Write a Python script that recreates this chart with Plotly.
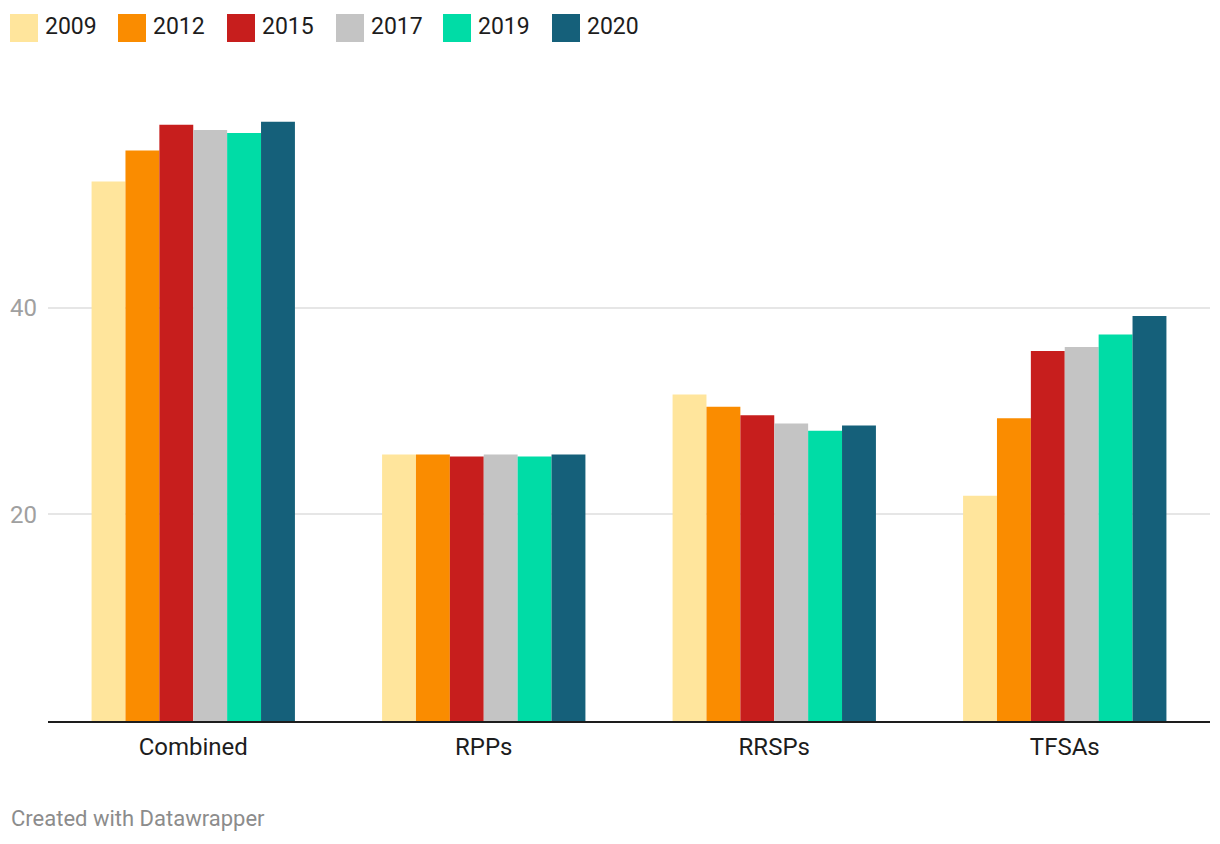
import plotly.graph_objects as go

categories = ["Combined", "RPPs", "RRSPs", "TFSAs"]
years = ["2009", "2012", "2015", "2017", "2019", "2020"]
v2009 = [52.2, 25.8, 31.6, 21.8]
v2012 = [55.2, 25.8, 30.4, 29.3]
v2015 = [57.7, 25.6, 29.6, 35.8]
v2017 = [57.2, 25.8, 28.8, 36.2]
v2019 = [56.9, 25.6, 28.1, 37.4]
v2020 = [58.0, 25.8, 28.6, 39.2]
series = [v2009, v2012, v2015, v2017, v2019, v2020]
colors = ["#ffe59c", "#fa8c00", "#c71e1d", "#c4c4c4", "#00dca6", "#15607a"]
y_ticks = [20, 40]

fig = go.Figure()
for yr, vals, col in zip(years, series, colors):
    fig.add_trace(go.Bar(x=categories, y=vals, name=yr, marker_color=col,
                         marker_line_width=0, showlegend=False))

# page offset (body margin) of 8px; target screen coords below
OFF = 8
W, H = 1212, 836
L, R, T, B = 40, 10, 93, 123
PW = W - L - R
PH = H - T - B


def px(x):
    return (x - OFF - L) / PW


def py(y):
    return (T + PH - (y - OFF)) / PH


# custom legend (large swatches like the reference)
leg_x = [10, 118, 227, 336, 443, 552]
for i, (yr, col) in enumerate(zip(years, colors)):
    x0 = leg_x[i]
    fig.add_shape(type="rect", xref="paper", yref="paper",
                  x0=px(x0), x1=px(x0 + 28), y0=py(14), y1=py(42),
                  fillcolor=col, line_width=0)
    fig.add_annotation(xref="paper", yref="paper",
                       x=px(x0 + 33), y=py(27),
                       text=yr, showarrow=False, xanchor="left", yanchor="middle",
                       font=dict(family="Roboto", size=23, color="#1d1d1d"))

fig.add_annotation(xref="paper", yref="paper", x=px(9), y=py(818),
                   text="Created with Datawrapper", showarrow=False,
                   xanchor="left", yanchor="middle",
                   font=dict(family="Roboto", size=22, color="#8c8c8c"))

fig.update_layout(
    width=W, height=H,
    margin=dict(l=L, r=R, t=T, b=B),
    paper_bgcolor="white", plot_bgcolor="white",
    barmode="group", bargap=0.3, bargroupgap=0,
    font=dict(family="Roboto", size=24, color="#1d1d1d"),
    xaxis=dict(showline=True, linecolor="#1d1d1d", linewidth=2, ticks="",
               showgrid=False, tickfont=dict(size=24, color="#1d1d1d"),
               ticklabelstandoff=3, automargin=False),
    yaxis=dict(range=[0, 60], tickvals=y_ticks, showgrid=True, gridcolor="#e6e6e6",
               gridwidth=1.5, zeroline=False, showline=False, ticks="",
               tickfont=dict(size=24, color="#a0a0a0"), ticklabelstandoff=10,
               automargin=False),
)

fig.write_html("out.html")
